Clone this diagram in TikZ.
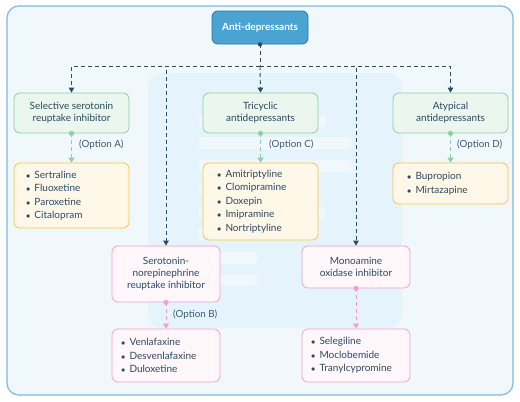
\documentclass[tikz,border=0pt]{standalone}
\usepackage{fontspec}
\setmainfont{Lato}
\usetikzlibrary{arrows.meta}
\definecolor{navy}{HTML}{2B4A63}
\definecolor{gbord}{HTML}{8DD0A5}
\definecolor{gfill}{HTML}{EAF6EE}
\definecolor{ybord}{HTML}{F9C440}
\definecolor{yfill}{HTML}{FFF8E8}
\definecolor{pbord}{HTML}{F2A2C6}
\definecolor{pfill}{HTML}{FFF7FA}
\definecolor{rootfill}{HTML}{4AA3D1}
\definecolor{rootbord}{HTML}{2A76A3}
\definecolor{frameb}{HTML}{7FB9E0}
\definecolor{framef}{HTML}{F1F8FC}
\definecolor{panel}{HTML}{E5F4FC}
\definecolor{barc}{HTML}{F0F8FD}
\definecolor{lblc}{HTML}{3D5A70}
\newcommand{\itm}[1]{\makebox[8.5pt][l]{\fontsize{8}{8}\selectfont$\bullet$}#1}
\tikzset{
  base/.style={rectangle, rounded corners=6pt, line width=0.8pt, text=navy, align=center, inner sep=0pt,
    font=\fontsize{10}{12}\selectfont},
  grn/.style={base, draw=gbord, fill=gfill, minimum width=115pt, minimum height=40pt},
  ylw/.style={base, draw=ybord, fill=yfill, align=left, font=\fontsize{10}{13.5}\selectfont},
  pnk/.style={base, draw=pbord, fill=pfill, minimum width=108pt},
  pnkl/.style={base, draw=pbord, fill=pfill, align=left, font=\fontsize{10}{13.5}\selectfont},
  conn/.style={draw=navy, line width=0.9pt, dash pattern=on 4pt off 3pt, -{Triangle[length=5pt,width=5.5pt]}},
  gconn/.style={draw=gbord, line width=1pt, dash pattern=on 4pt off 3pt, -{Triangle[length=5pt,width=6pt]}},
  pconn/.style={draw=pbord, line width=1pt, dash pattern=on 4pt off 3pt, -{Triangle[length=5pt,width=6pt]}},
  lbl/.style={anchor=west, text=lblc, font=\fontsize{9.8}{11}\selectfont, inner sep=0pt},
  decobar/.style={fill=barc, rounded corners=3pt}
}
\begin{document}
\begin{tikzpicture}[x=1pt,y=-1pt]
\path[use as bounding box, fill=white] (0,0) rectangle (520,402);
\draw[fill=framef, draw=frameb, line width=1.2pt, rounded corners=12pt] (7,6) rectangle (513,395);
\fill[panel, rounded corners=14pt] (148,73) rectangle (402,328);
% decorative bars
\fill[decobar] (199,115) rectangle (326,127);
\fill[decobar] (199,137) rectangle (352,149);
\fill[decobar] (199,160) rectangle (352,172);
\fill[decobar] (199,183) rectangle (300,195);
\fill[decobar] (199,207) rectangle (326,219);
\fill[decobar] (199,228) rectangle (300,240);
\fill[decobar] (220,252) rectangle (257,264);
\fill[decobar] (220,274) rectangle (257,286);

% nodes
\node[base, draw=rootbord, fill=rootfill, text=white, minimum width=96pt, minimum height=33pt,
  font=\fontsize{10}{12}\selectfont\bfseries] (root) at (260,27.5) {Anti-depressants};
\node[grn] (ssri) at (71.5,113) {Selective serotonin\\reuptake inhibitor};
\node[grn] (tca) at (260.5,113) {Tricyclic\\antidepressants};
\node[grn] (atyp) at (450.5,113) {Atypical\\antidepressants};
\node[ylw, inner xsep=12pt, text width=91pt, minimum height=65pt] (ssril) at (71.5,195.5)
  {\itm{Sertraline}\\\itm{Fluoxetine}\\\itm{Paroxetine}\\\itm{Citalopram}};
\node[ylw, inner xsep=14pt, text width=87pt, minimum height=77pt] (tcal) at (260.5,201.5)
  {\itm{Amitriptyline}\\\itm{Clomipramine}\\\itm{Doxepin}\\\itm{Imipramine}\\\itm{Nortriptyline}};
\node[ylw, inner xsep=14pt, text width=87pt, minimum height=41pt] (atypl) at (450.5,183.5)
  {\itm{Bupropion}\\\itm{Mirtazapine}};
\node[pnk, minimum height=56pt] (snri) at (166,274) {Serotonin-\\norepinephrine\\reuptake inhibitor};
\node[pnk, minimum height=42pt] (maoi) at (356,267) {Monoamine\\oxidase inhibitor};
\node[pnkl, inner xsep=9pt, text width=90pt, minimum height=53pt] (snril) at (166,355.5)
  {\itm{Venlafaxine}\\\itm{Desvenlafaxine}\\\itm{Duloxetine}};
\node[pnkl, inner xsep=9pt, text width=90pt, minimum height=53pt] (maoil) at (356,355.5)
  {\itm{Selegiline}\\\itm{Moclobemide}\\\itm{Tranylcypromine}};

% connectors from root
\coordinate (bus) at (260,66);
\draw[draw=navy, line width=0.9pt, dash pattern=on 4pt off 3pt] (root.south) -- (bus);
\draw[conn] (bus) -| (ssri.north);
\draw[conn] (bus) -- (tca.north);
\draw[conn] (bus) -| (atyp.north);
\draw[conn] (bus) -| (snri.north);
\draw[conn] (bus) -| (maoi.north);
\fill[navy] (root.south) circle (2.2pt);

% option connectors
\draw[gconn] (ssri.south) -- (ssril.north);
\draw[gconn] (tca.south) -- (tcal.north);
\draw[gconn] (atyp.south) -- (atypl.north);
\draw[pconn] (snri.south) -- (snril.north);
\draw[pconn] (maoi.south) -- (maoil.north);
\fill[gbord] (ssri.south) circle (2.6pt);
\fill[gbord] (tca.south) circle (2.6pt);
\fill[gbord] (atyp.south) circle (2.6pt);
\fill[pbord] (snri.south) circle (2.6pt);
\fill[pbord] (maoi.south) circle (2.6pt);

% labels
\node[lbl] (la) at (79,145) {(Option A)};
\node[lbl] (lc) at (269,145) {(Option C)};
\node[lbl] (ld) at (457,145) {(Option D)};
\node[lbl] (lb) at (173,315) {(Option B)};
\end{tikzpicture}
\end{document}
